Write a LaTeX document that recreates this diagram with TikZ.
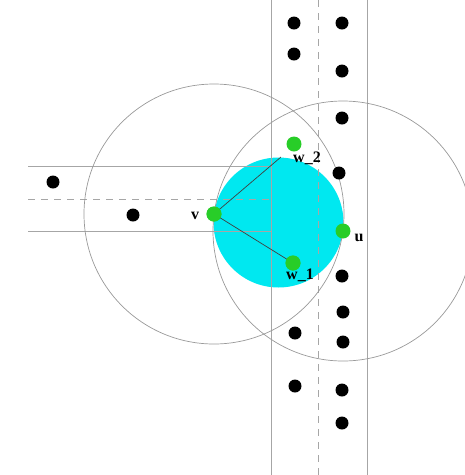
\documentclass[tikz,border=0pt]{standalone}
\usepackage{fontspec}
\setmainfont{Liberation Serif}
\definecolor{aqua}{RGB}{0,232,240}
\definecolor{gdot}{RGB}{40,205,40}
\begin{document}
\begin{tikzpicture}[x=1pt,y=-1pt,
  stripline/.style={draw=black!35,line width=0.9pt},
  midline/.style={draw=black!35,line width=0.9pt,dash pattern=on 7pt off 6pt},
  bigcirc/.style={draw=black!40,line width=0.7pt},
  blackdot/.style={circle,fill=black,inner sep=0pt,minimum size=13pt},
  greendot/.style={circle,fill=gdot,inner sep=0pt,minimum size=15pt},
  lab/.style={font=\fontsize{16}{16}\selectfont\bfseries,inner sep=0pt},
  edge/.style={draw=black!75,line width=0.7pt}]
\useasboundingbox (0,0) rectangle (465,475);
\clip (0,0) rectangle (465,475);
\coordinate (pv) at (214,214);
\coordinate (pu) at (343,231);
% cyan disk
\fill[aqua] (278.5,222.5) circle (65);
% vertical strip
\draw[stripline] (271,0) -- (271,475);
\draw[stripline] (367,0) -- (367,475);
\draw[midline] (318,0) -- (318,475);
% horizontal strip
\draw[stripline] (28,166) -- (271,166);
\draw[stripline] (28,231) -- (271,231);
\draw[midline] (28,199) -- (271,199);
% big circles
\draw[bigcirc] (pv) circle (130);
\draw[bigcirc] (pu) circle (130);
% nodes
\coordinate (e2) at (281,157);
\node[greendot] (v) at (pv) {};
\node[greendot] (u) at (pu) {};
\node[greendot] (w2) at (294,144) {};
\node[greendot] (w1) at (293,263) {};
\draw[edge] (v.center) -- (e2);
\draw[edge] (v.center) -- (w1.center);
\node[greendot] at (pv) {};
\node[greendot] at (293,263) {};
% labels
\node[lab] (lv) at (195,216) {v};
\node[lab] (lu) at (359,238) {u};
\node[lab] (lw2) at (307,158) {w\_2};
\node[lab] (lw1) at (300,275) {w\_1};
% black dots
\node[blackdot] (a1) at (53,182) {};
\node[blackdot] (a2) at (133,215) {};
\node[blackdot] (b1) at (294,23) {};
\node[blackdot] (b2) at (294,54) {};
\node[blackdot] (b3) at (295,333) {};
\node[blackdot] (b4) at (295,386) {};
\node[blackdot] (c1) at (342,23) {};
\node[blackdot] (c2) at (342,71) {};
\node[blackdot] (c3) at (342,118) {};
\node[blackdot] (c4) at (339,173) {};
\node[blackdot] (c5) at (342,276) {};
\node[blackdot] (c6) at (343,312) {};
\node[blackdot] (c7) at (343,342) {};
\node[blackdot] (c8) at (342,390) {};
\node[blackdot] (c9) at (342,423) {};
\end{tikzpicture}
\end{document}
